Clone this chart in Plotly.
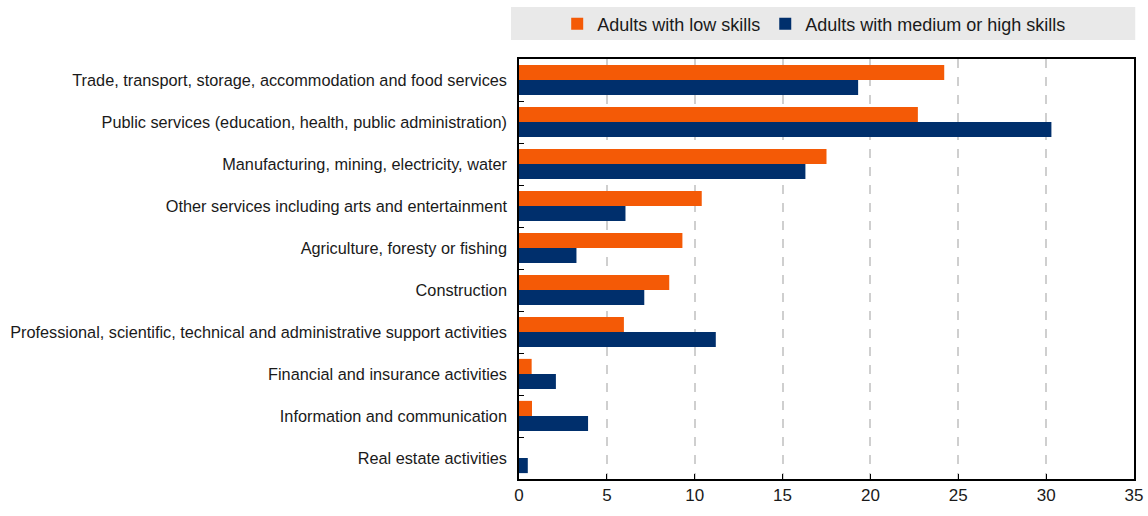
import plotly.graph_objects as go

categories = [
    "Trade, transport, storage, accommodation and food services",
    "Public services (education, health, public administration)",
    "Manufacturing, mining, electricity, water",
    "Other services including arts and entertainment",
    "Agriculture, foresty or fishing",
    "Construction",
    "Professional, scientific, technical and administrative support activities",
    "Financial and insurance activities",
    "Information and communication",
    "Real estate activities",
]
low_skills = [24.2, 22.7, 17.5, 10.4, 9.3, 8.55, 5.97, 0.72, 0.74, 0.0]
med_high_skills = [19.3, 30.3, 16.3, 6.06, 3.27, 7.13, 11.2, 2.1, 3.93, 0.5]
x_ticks = [0, 5, 10, 15, 20, 25, 30, 35]

FONT = "Liberation Sans Narrow, Arial Narrow, Liberation Sans, Arial, sans-serif"

fig = go.Figure()
fig.add_trace(go.Bar(
    y=categories, x=low_skills, orientation="h",
    name="Adults with low skills",
    marker=dict(color="#F45A06", line=dict(width=0)),
))
fig.add_trace(go.Bar(
    y=categories, x=med_high_skills, orientation="h",
    name="Adults with medium or high skills",
    marker=dict(color="#002F6C", line=dict(width=0)),
))

# grey band behind the legend
fig.add_shape(type="rect", xref="paper", yref="paper",
              x0=-0.013, x1=1.002, y0=1.045, y1=1.124,
              fillcolor="#E9E9E9", line=dict(width=0), layer="below")

fig.update_layout(
    width=1148, height=516,
    margin=dict(l=519, r=14, t=59, b=37, autoexpand=False),
    paper_bgcolor="white", plot_bgcolor="white",
    font=dict(family=FONT, size=16.3, color="#1a1a1a"),
    barmode="group", bargap=0.28, bargroupgap=0,
    showlegend=True,
    legend=dict(orientation="h", x=0.48, xanchor="center",
                yref="container", y=0.9535, yanchor="middle",
                bgcolor="rgba(0,0,0,0)", font=dict(size=18),
                itemwidth=30, tracegroupgap=0),
    xaxis=dict(range=[0, 35], tickvals=x_ticks, ticks="inside", ticklen=5,
               tickcolor="black", showline=True, linecolor="black", linewidth=1.5,
               mirror=True, showgrid=True, gridcolor="#CFCFCF", griddash="dash",
               gridwidth=1.5, zeroline=False, tickfont=dict(size=17),
               automargin=False),
    yaxis=dict(autorange="reversed", tickson="boundaries", ticks="inside",
               ticklen=5, tickcolor="black", showline=True, linecolor="black",
               linewidth=1.5, mirror=True, showgrid=False, ticklabelstandoff=7,
               tickfont=dict(size=16.3), automargin=False),
)

# drop the browser's default body margin so the figure sits at the page corner
fig.write_html("out.html", config={"displayModeBar": False},
               post_script="document.body.style.margin='0';")
